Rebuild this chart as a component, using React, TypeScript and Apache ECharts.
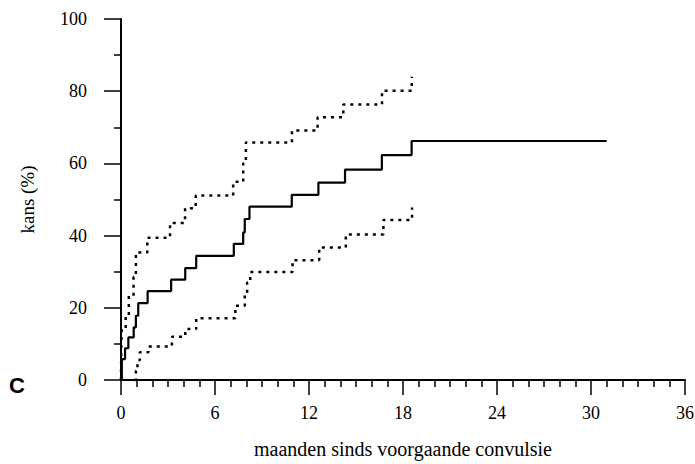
import React, { useEffect, useRef } from "react";
import * as echarts from "echarts";

const xTicks = [0, 6, 12, 18, 24, 30, 36];
const yTicks = [0, 20, 40, 60, 80, 100];

// Kaplan-Meier estimate (months, %)
const kmMonths = [0, 0.05, 0.26, 0.47, 0.81, 0.95, 1.1, 1.7, 3.2, 4.1, 4.8, 7.2, 7.8, 7.9, 8.2, 10.9, 12.6, 14.3, 16.65, 18.55, 31.0];
const kmValues = [0, 5.8, 8.8, 11.8, 14.6, 17.8, 21.3, 24.6, 27.8, 31.0, 34.4, 37.7, 40.9, 44.6, 48.0, 51.3, 54.7, 58.3, 62.3, 66.2, 66.2];

// Upper confidence limit
const upperMonths = [0, 0.02, 0.05, 0.3, 0.5, 0.8, 0.95, 1.68, 3.13, 4.09, 4.77, 7.16, 7.8, 7.97, 10.91, 12.55, 14.19, 16.66, 18.56];
const upperValues = [0, 10.5, 14.1, 17.8, 23.3, 28.5, 35.3, 39.4, 43.5, 47.6, 51.1, 54.9, 60.0, 65.8, 69.1, 72.8, 76.3, 80.1, 84.0];

// Lower confidence limit
const lowerMonths = [0.85, 0.95, 1.05, 1.2, 1.75, 3.25, 4.1, 4.8, 7.3, 7.9, 8.05, 8.25, 10.95, 12.65, 14.35, 16.75, 18.58];
const lowerValues = [0, 2.5, 5.5, 7.7, 9.3, 12.0, 14.1, 17.1, 20.6, 24.0, 27.0, 29.9, 33.2, 36.7, 40.3, 44.3, 47.8];

const zip = (a: number[], b: number[]) => a.map((v, i) => [v, b[i]]);

export default function App() {
  const ref = useRef<HTMLDivElement>(null);
  useEffect(() => {
    if (!ref.current) return;
    const chart = echarts.init(ref.current, null, { renderer: "svg" });
    const serif = "Liberation Serif";
    chart.setOption({
      animation: false,
      backgroundColor: "#ffffff",
      grid: { left: 121, right: 10, top: 19, bottom: 84, outerBoundsMode: "none", containLabel: false },
      xAxis: {
        type: "value",
        min: 0,
        max: 36,
        interval: 6,
        name: "maanden sinds voorgaande convulsie",
        nameLocation: "middle",
        nameGap: 59,
        nameTextStyle: { fontFamily: serif, fontSize: 20, color: "#000" },
        axisLine: { show: true, lineStyle: { color: "#000", width: 2 } },
        axisTick: { show: true, length: 15, lineStyle: { color: "#000", width: 1.5 } },
        minorTick: { show: true, splitNumber: 6, length: 7, lineStyle: { color: "#000", width: 1.5 } },
        axisLabel: {
          fontFamily: serif,
          fontSize: 18,
          color: "#000",
          margin: 24,
          formatter: (v: number) => (xTicks.includes(v) ? String(v) : ""),
        },
        splitLine: { show: false },
      },
      yAxis: {
        type: "value",
        min: 0,
        max: 100,
        interval: 20,
        name: "kans (%)",
        nameLocation: "middle",
        nameGap: 84,
        nameTextStyle: { fontFamily: serif, fontSize: 19, color: "#000" },
        axisLine: { show: true, lineStyle: { color: "#000", width: 2 } },
        axisTick: { show: true, length: 17, lineStyle: { color: "#000", width: 1.5 } },
        minorTick: { show: true, splitNumber: 2, length: 7, lineStyle: { color: "#000", width: 1.5 } },
        axisLabel: {
          fontFamily: serif,
          fontSize: 18,
          color: "#000",
          margin: 34,
          formatter: (v: number) => (yTicks.includes(v) ? String(v) : ""),
        },
        splitLine: { show: false },
      },
      graphic: [
        {
          type: "text",
          left: 9,
          top: 374,
          style: { text: "C", fontFamily: "Liberation Sans", fontWeight: "bold", fontSize: 22, fill: "#000" },
        },
      ],
      series: [
        {
          type: "line",
          step: "end",
          data: zip(kmMonths, kmValues),
          showSymbol: false,
          lineStyle: { color: "#000", width: 2.2 },
        },
        {
          type: "line",
          step: "end",
          data: zip(upperMonths, upperValues),
          showSymbol: false,
          lineStyle: { color: "#000", width: 2.5, type: [3, 5] },
        },
        {
          type: "line",
          step: "end",
          data: zip(lowerMonths, lowerValues),
          showSymbol: false,
          lineStyle: { color: "#000", width: 2.5, type: [3, 5] },
        },
      ],
    });
    return () => chart.dispose();
  }, []);
  return (
    <div
      ref={ref}
      style={{ position: "absolute", left: 0, top: 0, width: 695, height: 464 }}
    />
  );
}
